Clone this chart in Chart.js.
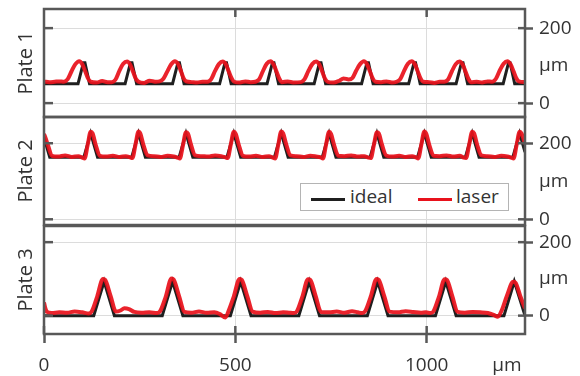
<!DOCTYPE html>
<html><head><meta charset="utf-8">
<script src="https://cdn.jsdelivr.net/npm/chart.js@4.4.1/dist/chart.umd.min.js"></script>
<style>
html,body{margin:0;padding:0;background:#fff;}
#wrap{position:relative;width:580px;height:376px;overflow:hidden;background:#fff;}
#wrap canvas{position:absolute;left:0;top:0;}
#legend{position:absolute;left:300px;top:183px;width:207px;height:26px;border:1px solid #b4b4b4;background:#fff;font-family:'Open Sans',sans-serif;font-size:19px;color:#333;}
.item{position:absolute;top:-1px;height:26px;line-height:26px;}
.sw{position:absolute;top:14px;height:3px;width:34px;}
</style></head><body>
<div id="wrap">
<canvas id="c1" width="580" height="376"></canvas>
<canvas id="c2" width="580" height="376"></canvas>
<canvas id="c3" width="580" height="376"></canvas>
<div id="legend"></div>
</div>
<script>
// ---------- data ----------
const plateNames = ['Plate 1', 'Plate 2', 'Plate 3'];
const seriesNames = ['ideal', 'laser'];
const xTickValues = [0, 500, 1000, 1210];
const xTickLabels = ['0', '500', '1000', 'µm'];
const yTickValues = [0, 100, 200];
const yTickLabels = ['0', 'µm', '200'];
const xMax = 1257;
const yMinByPlate = [-37, -15, -50];
const yMaxByPlate = [251, 269, 244];

// Plate 1
const plate1IdealX = [0, 89, 103, 107, 119, 212, 226, 230, 242, 336, 350, 354, 366, 459, 473, 477, 489, 583, 597, 601, 613, 706, 720, 724, 736, 830, 844, 848, 860, 953, 967, 971, 983, 1077, 1091, 1095, 1107, 1200, 1214, 1218, 1230, 1257];
const plate1IdealY = [52, 52, 108, 108, 52, 52, 108, 108, 52, 52, 108, 108, 52, 52, 108, 108, 52, 52, 108, 108, 52, 52, 108, 108, 52, 52, 108, 108, 52, 52, 108, 108, 52, 52, 108, 108, 52, 52, 108, 108, 52, 52];
const plate1LaserX = [0, 14, 28, 40,
  52, 62, 72, 82, 92, 100, 108, 115, 122, 138, 152, 166,
  177, 187, 197, 207, 217, 225, 233, 240, 247, 262, 276, 290,
  302, 312, 322, 332, 342, 350, 358, 365, 372, 386, 400, 414,
  427, 437, 447, 457, 467, 475, 483, 490, 497, 512, 526, 540,
  552, 562, 572, 582, 592, 600, 608, 615, 622, 637, 651,
  671, 681, 691, 701, 711, 719, 727, 734, 741, 756, 770, 783,
  796, 806, 816, 826, 836, 844, 852, 859, 866, 881, 895, 909,
  921, 931, 941, 951, 961, 969, 977, 984, 991, 1006, 1020, 1034,
  1046, 1056, 1066, 1076, 1086, 1094, 1102, 1109, 1116, 1131, 1145, 1159,
  1171, 1181, 1191, 1201, 1211, 1219, 1227, 1234, 1241, 1257];
const plate1LaserY = [58, 56, 57, 58,
  57, 64, 85, 104, 112, 104, 84, 66, 57, 55, 59, 56,
  56, 63, 86, 105, 111, 103, 83, 65, 57, 54, 60, 57,
  58, 65, 84, 103, 112, 105, 85, 66, 58, 56, 55, 57,
  57, 64, 86, 104, 111, 104, 84, 67, 57, 55, 58, 56,
  57, 63, 85, 105, 112, 103, 83, 65, 56, 58, 55,
  56, 64, 86, 104, 111, 104, 84, 66, 57, 55, 59, 66,
  63, 67, 87, 104, 112, 104, 84, 66, 57, 56, 58, 55,
  57, 64, 86, 105, 112, 104, 84, 66, 57, 56, 54, 57,
  57, 63, 85, 104, 111, 103, 83, 65, 56, 57, 55, 58,
  57, 65, 87, 105, 112, 104, 85, 67, 58, 56];

// Plate 2
const plate2IdealX = [0, 15, 104, 122, 140, 229, 247, 265, 353, 371, 389, 478, 496, 514, 602, 620, 638, 727, 745, 763, 852, 870, 888, 976, 994, 1012, 1101, 1119, 1137, 1225, 1243, 1257];
const plate2IdealY = [215, 163, 163, 226, 163, 163, 226, 163, 163, 226, 163, 163, 226, 163, 163, 226, 163, 163, 226, 163, 163, 226, 163, 163, 226, 163, 163, 226, 163, 163, 226, 177];
const plate2LaserX = [0, 4, 10, 21, 37, 55, 73, 90,
  100, 106, 114, 122, 127, 135, 146, 162, 180, 198, 214,
  225, 231, 239, 247, 252, 260, 271, 287, 305, 323, 339,
  349, 355, 363, 371, 376, 384, 395, 411, 429, 447, 463,
  474, 480, 488, 496, 501, 509, 520, 536, 554, 572, 588,
  598, 604, 612, 620, 625, 633, 644, 660, 678, 696, 712,
  723, 729, 737, 745, 750, 758, 769, 785, 803, 821, 837,
  848, 854, 862, 870, 875, 883, 894, 910, 928, 946, 962,
  972, 978, 986, 994, 999, 1007, 1018, 1034, 1052, 1070, 1086,
  1097, 1103, 1111, 1119, 1124, 1132, 1143, 1159, 1177, 1195, 1211,
  1221, 1227, 1235, 1243, 1248, 1257];
const plate2LaserY = [224, 214, 196, 167, 165, 168, 164, 166,
  162, 160, 195, 230, 226, 196, 167, 165, 167, 164, 166,
  163, 161, 196, 231, 225, 195, 168, 166, 164, 167, 165,
  162, 160, 194, 229, 226, 197, 168, 166, 165, 168, 166,
  163, 161, 196, 230, 225, 196, 167, 165, 167, 164, 166,
  162, 160, 195, 231, 226, 197, 168, 166, 164, 167, 165,
  163, 160, 196, 230, 225, 196, 167, 166, 168, 165, 166,
  162, 161, 195, 229, 226, 197, 168, 165, 167, 164, 166,
  163, 160, 196, 231, 225, 195, 167, 166, 168, 165, 167,
  162, 161, 196, 230, 226, 196, 168, 166, 164, 167, 165,
  162, 160, 195, 230, 226, 198];

// Plate 3
const plate3IdealX = [0, 130, 157, 184, 309, 336, 363, 487, 514, 541, 666, 693, 720, 845, 872, 899, 1023, 1050, 1077, 1202, 1229, 1257];
const plate3IdealY = [0, 0, 93, 0, 0, 93, 0, 0, 93, 0, 0, 93, 0, 0, 93, 0, 0, 93, 0, 0, 93, 0];
const plate3LaserX = [0, 3, 8, 20, 40, 60, 80, 100,
  117, 125, 139, 154, 160, 174, 188, 200, 210, 222, 236, 255, 275,
  296, 304, 318, 333, 339, 353, 367, 385, 405, 425, 445, 460,
  474, 482, 496, 511, 517, 531, 545, 565, 585, 605, 625, 640,
  653, 661, 675, 690, 696, 710, 724, 745, 765, 785, 805, 820,
  832, 840, 854, 869, 875, 889, 903, 925, 945, 965, 985, 998,
  1010, 1018, 1032, 1047, 1053, 1067, 1081, 1100, 1120, 1140, 1160, 1175,
  1186, 1196, 1210, 1226, 1232, 1245, 1257];
const plate3LaserY = [36, 22, 10, 7, 9, 8, 11, 9,
  6, 12, 52, 100, 97, 54, 11, 14, 20, 18, 10, 8, 9,
  7, 13, 51, 101, 98, 53, 10, 8, 11, 8, 9, 4,
  -5, 12, 52, 100, 97, 54, 11, 8, 10, 7, 9, 8,
  7, 12, 51, 99, 97, 53, 10, 9, 11, 8, 12, 9,
  7, 13, 52, 100, 97, 54, 11, 9, 12, 10, 8, 9,
  7, 12, 51, 99, 97, 53, 10, 8, 10, 9, 7, 2,
  -3, 14, 55, 92, 90, 52, 20];

const idealX = [plate1IdealX, plate2IdealX, plate3IdealX];
const idealY = [plate1IdealY, plate2IdealY, plate3IdealY];
const laserX = [plate1LaserX, plate2LaserX, plate3LaserX];
const laserY = [plate1LaserY, plate2LaserY, plate3LaserY];

// ---------- styling / layout ----------
const FRAME = '#585858';
const GRID = '#dcdcdc';
const TEXT = '#333333';
const NONE = 'rgba(0,0,0,0)';
const IDEAL_COLOR = '#1f1f1f';
const LASER_COLOR = 'rgba(232,18,28,0.93)';
const areaTop = [9, 117, 226];
const areaBottom = [117, 225, 334];

Chart.defaults.font.family = "'Open Sans', sans-serif";
Chart.defaults.color = TEXT;

const framePlugin = {
  id: 'frame',
  afterDatasetsDraw(chart, args, opts) {
    const {ctx, chartArea: a, scales} = chart;
    ctx.save();
    ctx.strokeStyle = FRAME;
    ctx.lineWidth = 2.5;
    ctx.strokeRect(a.left, a.top, a.right - a.left, a.bottom - a.top);
    const line = (x1, y1, x2, y2) => { ctx.beginPath(); ctx.moveTo(x1, y1); ctx.lineTo(x2, y2); ctx.stroke(); };
    [0, 200].forEach(v => {
      const py = scales.y.getPixelForValue(v);
      line(a.left, py, a.left + 9, py);
      line(a.right - 7, py, a.right, py);
    });
    if (opts.top) [500, 1000].forEach(v => {
      const px = scales.x.getPixelForValue(v);
      line(px, a.top, px, a.top + 8);
    });
    if (opts.bottom) [0, 500, 1000].forEach(v => {
      const px = scales.x.getPixelForValue(v);
      line(px, a.bottom - 8, px, a.bottom);
    });
    ctx.restore();
  }
};

const toPoints = (xs, ys) => xs.map((x, i) => ({x: x, y: ys[i]}));

function makeChart(id, idx) {
  const isBottom = idx === 2;
  const yMin = yMinByPlate[idx], yMax = yMaxByPlate[idx];
  return new Chart(document.getElementById(id), {
    type: 'line',
    data: {
      datasets: [
        { label: seriesNames[0], data: toPoints(idealX[idx], idealY[idx]), xAxisID: 'x', yAxisID: 'y',
          borderColor: IDEAL_COLOR, borderWidth: 3, pointRadius: 0, tension: 0, order: 2 },
        { label: seriesNames[1], data: toPoints(laserX[idx], laserY[idx]), xAxisID: 'x', yAxisID: 'y',
          borderColor: LASER_COLOR, borderWidth: 4, pointRadius: 0, cubicInterpolationMode: 'monotone', order: 1 }
      ]
    },
    options: {
      responsive: false, animation: false, devicePixelRatio: 1,
      events: [],
      layout: { padding: { top: areaTop[idx], bottom: isBottom ? 0 : 376 - areaBottom[idx], left: 0, right: 0 } },
      plugins: { legend: { display: false }, tooltip: { enabled: false }, frame: { top: idx === 0, bottom: isBottom } },
      scales: {
        x: {
          type: 'linear', position: 'bottom', min: 0, max: xMax,
          afterBuildTicks: s => { s.ticks = xTickValues.map(v => ({value: v})); },
          afterFit: s => { s.height = isBottom ? 376 - areaBottom[idx] : 0; s.paddingLeft = 0; s.paddingRight = 0; },
          ticks: { display: isBottom, autoSkip: false, maxRotation: 0, padding: 11, font: { size: 19 }, color: TEXT,
                   callback: (v, i) => xTickLabels[i] },
          grid: { drawTicks: isBottom, tickLength: 9, tickWidth: 2.5, lineWidth: 1,
                  tickColor: c => (c.tick && c.tick.value === 1210) ? NONE : FRAME,
                  color: c => (c.tick && (c.tick.value === 500 || c.tick.value === 1000)) ? GRID : NONE },
          border: { display: false }
        },
        yl: {
          type: 'linear', position: 'left', axis: 'y', min: yMin, max: yMax,
          afterFit: s => { s.width = 44; s.paddingTop = 0; s.paddingBottom = 0; },
          ticks: { display: false }, grid: { display: false }, border: { display: false },
          title: { display: true, text: plateNames[idx], font: { size: 20 }, color: TEXT, padding: { top: 14, bottom: 0 } }
        },
        y: {
          type: 'linear', position: 'right', min: yMin, max: yMax,
          afterBuildTicks: s => { s.ticks = yTickValues.map(v => ({value: v})); },
          afterFit: s => { s.width = 55; s.paddingTop = 0; s.paddingBottom = 0; },
          ticks: { padding: 6, font: { size: 19 }, color: TEXT, callback: (v, i) => yTickLabels[i] },
          grid: { tickLength: 8, tickWidth: 2.5, lineWidth: 1,
                  tickColor: c => (c.tick && c.tick.value === 100) ? NONE : FRAME,
                  color: c => (c.tick && c.tick.value === 100) ? NONE : GRID },
          border: { display: false }
        }
      }
    },
    plugins: [framePlugin]
  });
}

const charts = [makeChart('c1', 0), makeChart('c2', 1), makeChart('c3', 2)];

// legend (HTML, built from the dataset labels)
const legend = document.getElementById('legend');
const legendPos = [{sw: 10, tx: 49}, {sw: 117, tx: 155}];
charts[1].data.datasets.forEach((ds, i) => {
  const sw = document.createElement('div');
  sw.className = 'sw';
  sw.style.left = legendPos[i].sw + 'px';
  sw.style.background = i === 0 ? IDEAL_COLOR : 'rgb(232,18,28)';
  legend.appendChild(sw);
  const t = document.createElement('div');
  t.className = 'item';
  t.style.left = legendPos[i].tx + 'px';
  t.textContent = ds.label;
  legend.appendChild(t);
});
</script>
</body></html>
